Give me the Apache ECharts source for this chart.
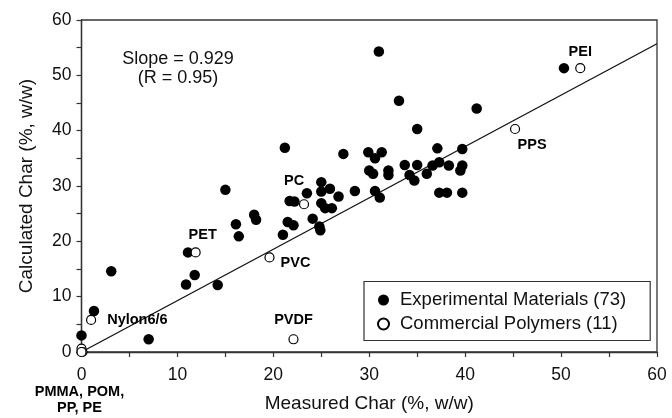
<!DOCTYPE html>
<html><head><meta charset="utf-8">
<script src="https://cdn.jsdelivr.net/npm/echarts@6/dist/echarts.min.js"></script>
<style>html,body{margin:0;padding:0;background:#fff}#c{width:672px;height:418px}</style>
</head><body><div id="c"></div><script>
// ---- data ----
const experimentalPoints = [
  [0,3],[1.3,7.4],[3.1,14.6],[7,2.3],[10.9,12.2],[11.1,18],[11.8,13.9],[14.2,12.1],
  [15,29.3],[16.1,23.1],[16.4,20.9],[18,24.8],[18.2,23.9],[21,21.2],[21.2,36.9],
  [21.5,23.5],[22.1,22.9],[21.7,27.3],[22.2,27.2],[23.5,28.7],[24.1,24.1],[24.8,22.7],
  [24.9,22],[25,30.7],[25,29],[25.9,29.5],[25,26.9],[25.4,26],[26.1,26],[26.8,28.1],
  [27.3,35.8],[28.5,29.1],[29.9,36.1],[31.3,36.1],[30.6,35],[30,32.8],[30.4,32.2],
  [32,32.8],[32,32],[30.6,29.1],[31.1,27.9],[31,54.3],[33.1,45.4],[35,40.3],[33.7,33.8],
  [35,33.8],[34.2,32],[34.7,31],[36,32.2],[36.6,33.7],[37.3,34.3],[38.3,33.7],[39.7,33.7],
  [39.5,32.8],[37.1,36.8],[39.7,36.7],[37.3,28.8],[38.1,28.8],[39.7,28.8],[41.2,44],[50.3,51.3]
];
const commercialNames = ['PMMA, POM,\nPP, PE','','','','Nylon6/6','PET','PVC','PVDF','PC','PPS','PEI'];
const commercialPoints = [[0,0],[0,0.6],[0.1,0],[0,0],[1,5.8],[11.9,18],[19.6,17.1],[22.1,2.3],[23.2,26.7],[45.2,40.3],[52,51.3]];
const fitLine = [[0,0],[60,55.7]];
const seriesNames = ['Experimental Materials (73)','Commercial Polymers (11)'];
const annotation = ['Slope = 0.929','(R = 0.95)'];
const xAxisTitle = 'Measured Char (%, w/w)';
const yAxisTitle = 'Calculated Char (%, w/w)';

// ---- label placement (style only) ----
const labelStyle = {
  'PMMA, POM,\nPP, PE': {position:'bottom', distance:27, offset:[-2,0], lineHeight:16, align:'center'},
  'Nylon6/6': {position:'right', distance:11},
  'PET': {position:'top', distance:5, offset:[7,0]},
  'PVC': {position:'right', distance:6, offset:[0,6]},
  'PVDF': {position:'top', distance:7},
  'PC': {position:'top', distance:11, offset:[-10,0]},
  'PPS': {position:'bottom', distance:3, offset:[17,0]},
  'PEI': {position:'top', distance:4}
};
const FONT = "'Liberation Sans', Arial, Helvetica, sans-serif";

const commercialData = commercialPoints.map((p,i) => {
  const n = commercialNames[i];
  const item = {value:p, name:n};
  if (n) item.label = Object.assign({show:true, formatter:n, fontWeight:'bold', fontSize:14.5,
      color:'#000', opacity:1, fontFamily:FONT}, labelStyle[n]);
  return item;
});

const chart = echarts.init(document.getElementById('c'), null, {renderer:'canvas'});
const axisCommon = {
  min:0, max:60, interval:10,
  axisLine:{show:true, lineStyle:{color:'#333', width:1.3}},
  axisTick:{show:true, inside:false, length:5, lineStyle:{color:'#333', width:1.2}},
  minorTick:{show:true, splitNumber:2, length:5, lineStyle:{color:'#333', width:1.2}},
  splitLine:{show:false},
  axisLabel:{color:'#111', fontSize:17.5, fontFamily:FONT},
  nameTextStyle:{color:'#111', fontSize:19, fontFamily:FONT},
  nameLocation:'middle'
};
chart.setOption({
  animation:false,
  backgroundColor:'#fff',
  grid:{left:81.5, right:15, top:20, bottom:62.5, show:true, borderColor:'#333', borderWidth:1.3},
  xAxis:Object.assign({}, axisCommon, {type:'value', name:xAxisTitle, nameGap:42,
    axisLabel:Object.assign({}, axisCommon.axisLabel, {margin:14})}),
  yAxis:Object.assign({}, axisCommon, {type:'value', name:yAxisTitle, nameGap:45,
    axisLabel:Object.assign({}, axisCommon.axisLabel, {margin:10})}),
  legend:{
    data:seriesNames, orient:'vertical', left:364, top:281.5,
    padding:[9,24,7,13], itemGap:5, itemWidth:11, itemHeight:11,
    borderColor:'#333', borderWidth:1.2, backgroundColor:'#fff',
    textStyle:{fontSize:18.5, fontFamily:FONT, color:'#111', lineHeight:18, padding:[0,0,0,6]}
  },
  graphic:[
    {type:'text', style:{text:annotation[0], x:178, y:59, align:'center', verticalAlign:'middle', fontSize:18, fontFamily:FONT, fill:'#111'}},
    {type:'text', style:{text:annotation[1], x:178, y:78, align:'center', verticalAlign:'middle', fontSize:18, fontFamily:FONT, fill:'#111'}}
  ],
  series:[
    {type:'line', data:fitLine, symbol:'none', silent:true, z:1,
     lineStyle:{color:'#111', width:1.3}},
    {type:'scatter', name:seriesNames[0], data:experimentalPoints, symbol:'circle', symbolSize:10.5,
     clip:false, z:3, itemStyle:{color:'#000', opacity:1}},
    {type:'scatter', name:seriesNames[1], data:commercialData, symbol:'circle', symbolSize:9,
     clip:false, z:4, itemStyle:{color:'#fff', borderColor:'#000', borderWidth:1.2, opacity:1}}
  ]
});
</script></body></html>
